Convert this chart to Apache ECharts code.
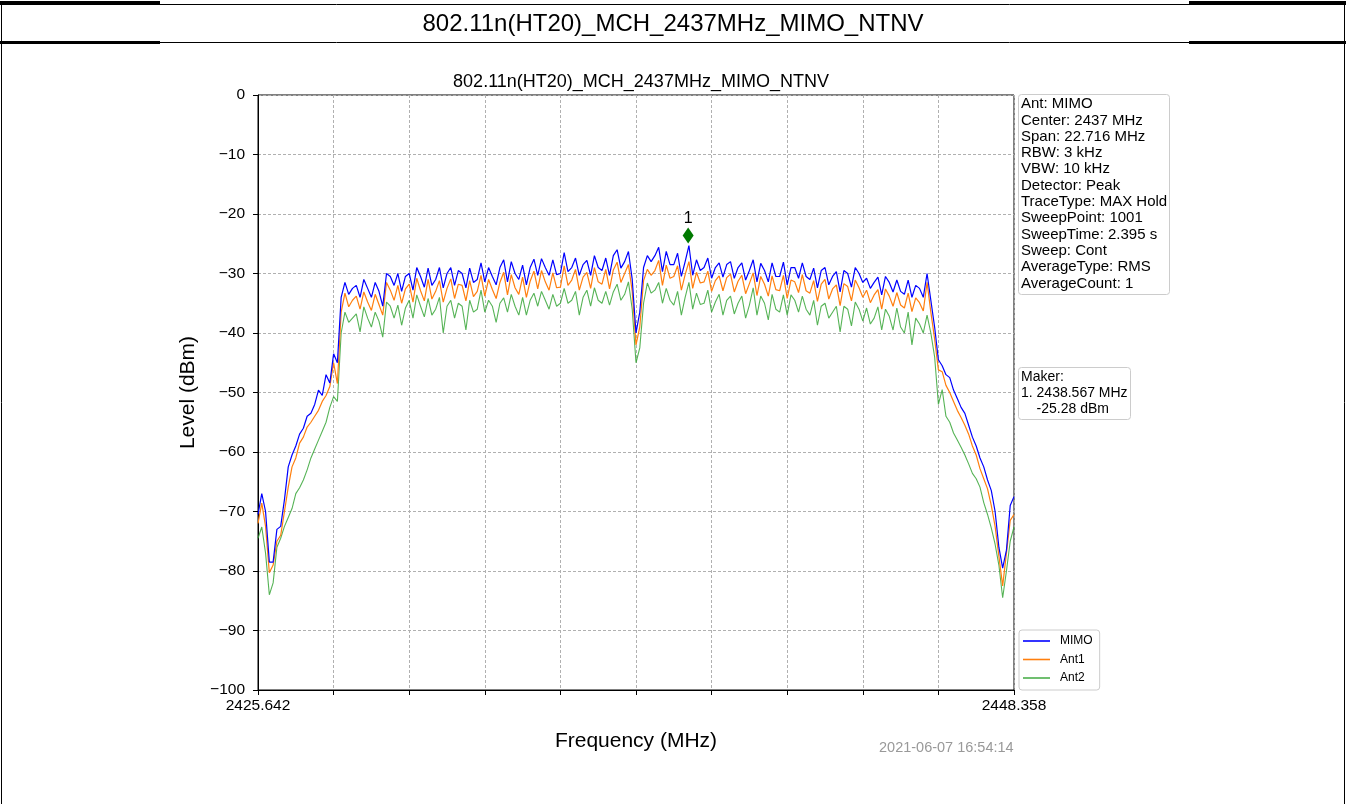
<!DOCTYPE html>
<html>
<head>
<meta charset="utf-8">
<script src="https://cdn.jsdelivr.net/npm/echarts@6/dist/echarts.min.js"></script>
<style>
html,body{margin:0;padding:0;background:#fff;}
#c{width:1346px;height:804px;}
</style>
</head>
<body>
<div id="c"></div>
<script>
// ---------------- data ----------------
const headerTitle = '802.11n(HT20)_MCH_2437MHz_MIMO_NTNV';
const chartTitle = '802.11n(HT20)_MCH_2437MHz_MIMO_NTNV';
const FREQ_START = 2425.642;
const FREQ_STOP = 2448.358;
const xTickLabels = ['2425.642', '2448.358'];
const seriesNames = ['MIMO', 'Ant1', 'Ant2'];
const infoLines = ['Ant: MIMO', 'Center: 2437 MHz', 'Span: 22.716 MHz', 'RBW: 3 kHz', 'VBW: 10 kHz',
  'Detector: Peak', 'TraceType: MAX Hold', 'SweepPoint: 1001', 'SweepTime: 2.395 s', 'Sweep: Cont',
  'AverageType: RMS', 'AverageCount: 1'];
const markerLines = ['Maker:', '1. 2438.567 MHz', '    -25.28 dBm'];
const markerFreq = 2438.567;
const markerLevel = -25.28;
const markerLabel = '1';
const timestamp = '2021-06-07 16:54:14';

// levels, 201 evenly spaced sweep points from FREQ_START to FREQ_STOP
const levelMIMO = [
 -70.5,-67.0,-70.0,-78.5,-78.5,-73.0,-72.5,-68.0,-62.5,-60.5,
 -59.0,-57.0,-56.0,-54.0,-53.5,-52.0,-49.6,-50.5,-47.0,-48.4,
 -43.5,-45.0,-34.0,-31.5,-33.5,-32.5,-32.0,-34.0,-31.0,-32.5,
 -34.0,-31.5,-33.0,-35.5,-30.0,-30.5,-32.0,-30.0,-33.0,-30.5,
 -30.0,-32.8,-29.0,-30.5,-32.3,-29.1,-32.0,-31.0,-29.0,-32.4,
 -30.0,-29.0,-32.0,-29.5,-30.0,-32.4,-29.1,-31.5,-31.0,-28.2,
 -31.4,-29.0,-30.5,-31.9,-29.0,-27.7,-31.4,-28.0,-30.0,-31.0,
 -28.6,-31.9,-29.0,-27.6,-30.3,-27.5,-29.0,-30.3,-27.7,-30.2,
 -30.0,-26.5,-29.7,-29.0,-27.4,-30.3,-28.5,-27.8,-30.3,-27.0,
 -29.0,-29.5,-27.4,-30.3,-27.0,-26.0,-29.1,-28.0,-26.3,-31.0,
 -40.0,-36.5,-29.0,-27.0,-28.0,-27.0,-25.6,-29.7,-26.3,-28.5,
 -28.5,-26.6,-30.5,-28.0,-25.3,-30.3,-27.7,-29.5,-29.0,-27.4,
 -30.8,-29.0,-28.2,-30.6,-28.5,-28.0,-30.8,-29.0,-28.2,-31.1,
 -29.5,-27.7,-31.4,-28.3,-29.5,-31.4,-28.2,-30.5,-30.5,-28.1,
 -31.9,-29.0,-29.0,-30.8,-28.2,-30.5,-31.0,-29.1,-32.4,-29.5,
 -29.0,-31.9,-30.5,-29.7,-33.1,-29.5,-30.0,-32.3,-29.0,-30.0,
 -31.5,-30.8,-32.5,-31.5,-30.6,-33.6,-30.5,-31.5,-33.1,-31.1,
 -33.0,-33.5,-31.1,-34.0,-32.0,-32.5,-34.0,-30.0,-34.5,-39.0,
 -44.5,-45.5,-47.0,-47.5,-49.6,-51.0,-52.5,-53.5,-55.5,-57.5,
 -59.0,-61.0,-62.5,-64.7,-66.5,-70.0,-76.0,-79.5,-76.5,-69.0,
 -67.5
];
const levelAnt1 = [
 -72.0,-68.6,-72.5,-80.3,-79.0,-75.0,-74.0,-70.0,-65.9,-62.5,
 -61.0,-58.5,-57.5,-55.8,-55.0,-54.0,-53.0,-51.5,-50.5,-49.0,
 -45.0,-48.5,-36.5,-33.3,-35.6,-34.5,-33.8,-36.0,-33.1,-34.8,
 -36.2,-33.5,-35.2,-37.0,-31.5,-32.8,-34.5,-32.0,-35.0,-32.6,
 -31.8,-34.8,-30.8,-32.9,-34.6,-31.0,-34.3,-33.0,-31.2,-34.8,
 -32.5,-30.9,-34.2,-31.8,-32.0,-34.6,-31.2,-33.9,-33.0,-30.3,
 -33.8,-31.0,-32.7,-34.2,-31.5,-29.8,-33.6,-30.2,-32.4,-33.5,
 -30.6,-34.0,-31.3,-29.6,-32.6,-29.5,-31.4,-32.8,-29.9,-32.4,
 -32.3,-28.7,-32.0,-31.1,-29.3,-32.8,-30.6,-29.8,-32.5,-29.0,
 -31.4,-31.8,-29.3,-32.6,-29.4,-28.1,-31.5,-30.0,-28.5,-33.0,
 -42.0,-39.0,-31.2,-29.3,-30.3,-29.5,-27.8,-32.0,-28.6,-30.8,
 -30.5,-28.7,-32.8,-30.2,-28.0,-32.5,-29.8,-31.6,-31.4,-29.6,
 -33.0,-31.2,-30.4,-32.9,-30.7,-30.1,-33.1,-31.3,-30.3,-33.4,
 -31.7,-29.9,-33.7,-30.5,-31.8,-33.8,-30.4,-32.7,-32.9,-30.3,
 -34.2,-31.1,-31.4,-33.2,-30.2,-32.9,-33.3,-31.2,-34.7,-31.8,
 -31.0,-34.3,-32.6,-31.9,-35.4,-31.7,-32.2,-34.6,-31.1,-32.4,
 -34.0,-32.8,-34.9,-33.6,-32.7,-36.0,-32.6,-33.8,-35.5,-33.2,
 -35.3,-35.8,-33.3,-36.4,-34.1,-34.9,-36.3,-31.5,-36.5,-41.0,
 -46.2,-46.5,-48.8,-50.0,-51.5,-53.0,-54.2,-55.5,-57.0,-59.0,
 -60.5,-62.8,-64.5,-66.2,-69.0,-72.5,-77.5,-82.5,-77.0,-71.5,
 -70.5
];
const levelAnt2 = [
 -74.5,-72.6,-77.0,-84.0,-82.0,-76.0,-74.5,-72.5,-71.0,-69.5,
 -67.0,-66.0,-64.7,-63.0,-61.0,-59.5,-58.0,-56.5,-55.0,-52.5,
 -50.7,-51.5,-40.0,-36.5,-38.2,-37.5,-36.8,-39.8,-35.6,-37.5,
 -39.0,-36.5,-38.0,-40.7,-34.8,-35.5,-37.5,-35.3,-38.7,-35.8,
 -34.5,-37.5,-33.6,-35.5,-37.3,-34.2,-37.0,-36.0,-34.0,-40.0,
 -35.5,-34.5,-37.5,-35.0,-35.5,-39.5,-34.5,-36.5,-36.0,-32.8,
 -36.5,-34.5,-35.5,-38.2,-35.0,-34.1,-36.5,-33.5,-35.5,-37.0,
 -34.0,-37.0,-34.5,-33.3,-35.5,-33.0,-34.5,-36.0,-33.5,-35.5,
 -35.0,-32.5,-35.0,-34.5,-33.0,-37.0,-34.0,-32.8,-35.5,-32.4,
 -34.5,-35.0,-33.0,-35.3,-33.1,-31.8,-34.5,-33.5,-31.4,-36.0,
 -45.0,-42.5,-35.0,-31.6,-33.3,-32.8,-31.5,-35.0,-32.5,-34.5,
 -35.3,-33.0,-37.0,-34.0,-31.5,-36.0,-33.3,-35.2,-35.0,-32.8,
 -36.5,-34.8,-33.5,-37.0,-34.5,-33.8,-36.8,-35.0,-33.8,-37.5,
 -35.3,-32.4,-37.0,-33.8,-35.0,-37.8,-33.5,-36.0,-36.5,-33.6,
 -37.0,-33.6,-34.5,-36.5,-33.8,-36.0,-37.0,-34.5,-38.7,-35.5,
 -35.0,-37.5,-36.5,-35.5,-39.8,-35.5,-36.0,-38.8,-34.8,-36.0,
 -38.0,-35.8,-38.5,-37.5,-35.6,-39.5,-36.0,-37.2,-39.5,-35.8,
 -39.0,-40.0,-36.5,-42.0,-37.5,-38.5,-40.0,-37.0,-40.0,-44.0,
 -52.0,-49.5,-54.0,-55.0,-56.8,-58.0,-59.2,-60.5,-62.0,-63.6,
 -64.5,-65.9,-68.5,-70.5,-72.8,-75.5,-79.0,-84.5,-80.0,-75.0,
 -72.6
];

// ---------------- build ----------------
const N = levelMIMO.length;
const STEP = (FREQ_STOP - FREQ_START) / (N - 1);
const freqs = levelMIMO.map((_, i) => FREQ_START + i * STEP);
const pairs = arr => arr.map((v, i) => [freqs[i], v]);
const TICK_STEP = (FREQ_STOP - FREQ_START) / 10;

const FONT = '"Liberation Sans", Arial, Helvetica, sans-serif';
const minus = v => (v < 0 ? '\u2212' + Math.abs(v) : String(v));

const chart = echarts.init(document.getElementById('c'), null, {renderer: 'canvas'});

const borderColor = '#000';
const option = {
  animation: false,
  backgroundColor: '#fff',
  textStyle: {fontFamily: FONT},
  title: [
    {text: headerTitle, left: 'center', top: 7,
     textStyle: {fontFamily: FONT, fontSize: 24, fontWeight: 'normal', color: '#000'}},
    {text: chartTitle, left: 636, textAlign: 'center', top: 68,
     textStyle: {fontFamily: FONT, fontSize: 18, fontWeight: 'normal', color: '#000'}},
    {text: infoLines.join('\n'), left: 1018, top: 94, padding: [2, 3, 3, 3],
     borderColor: '#cccccc', borderWidth: 1, borderRadius: 3, backgroundColor: '#fff',
     textStyle: {fontFamily: FONT, fontSize: 15, lineHeight: 16.3, fontWeight: 'normal', color: '#000'}},
    {text: markerLines.join('\n'), left: 1018, top: 367, padding: [2, 3, 3, 3],
     borderColor: '#cccccc', borderWidth: 1, borderRadius: 3, backgroundColor: '#fff',
     textStyle: {fontFamily: FONT, fontSize: 14, lineHeight: 16, fontWeight: 'normal', color: '#000'}},
    {text: timestamp, left: 874, top: 735,
     textStyle: {fontFamily: FONT, fontSize: 14.5, fontWeight: 'normal', color: '#999'}}
  ],
  legend: {
    data: seriesNames, orient: 'vertical', left: 1019, top: 630,
    icon: 'rect', itemWidth: 27, itemHeight: 1.6, itemGap: 4.5,
    padding: [4, 7, 5, 4],
    borderColor: '#cccccc', borderWidth: 1, borderRadius: 3, backgroundColor: '#fff',
    textStyle: {fontFamily: FONT, fontSize: 12, color: '#000', padding: [0, 0, 0, 5], lineHeight: 14},
    selectedMode: false
  },
  grid: {left: 258, top: 95, width: 756, height: 595, show: true,
         borderColor: '#000', borderWidth: 1, backgroundColor: 'transparent',
         containLabel: false, outerBoundsMode: 'none'},
  xAxis: {
    type: 'value', min: FREQ_START, max: FREQ_STOP, interval: TICK_STEP,
    name: 'Frequency (MHz)', nameLocation: 'middle', nameGap: 41,
    nameTextStyle: {fontFamily: FONT, fontSize: 21, color: '#000'},
    axisLine: {show: true, onZero: false, lineStyle: {color: borderColor, width: 1}},
    axisTick: {show: true, length: 5, lineStyle: {color: borderColor, width: 1}},
    axisLabel: {show: true, margin: 8, fontFamily: FONT, fontSize: 15.5, color: '#000',
      showMinLabel: true, showMaxLabel: true,
      formatter: v => Math.abs(v - FREQ_START) < 1e-6 ? xTickLabels[0]
                     : (Math.abs(v - FREQ_STOP) < 1e-6 ? xTickLabels[1] : '')},
    splitLine: {show: true, lineStyle: {color: '#b0b0b0', type: [3, 2], width: 1}}
  },
  yAxis: {
    type: 'value', min: -100, max: 0, interval: 10,
    name: 'Level (dBm)', nameLocation: 'middle', nameGap: 57,
    nameTextStyle: {fontFamily: FONT, fontSize: 21, color: '#000'},
    axisLine: {show: true, onZero: false, lineStyle: {color: borderColor, width: 1}},
    axisTick: {show: true, length: 5, lineStyle: {color: borderColor, width: 1}},
    axisLabel: {show: true, margin: 13, fontFamily: FONT, fontSize: 15.5, color: '#000', formatter: minus},
    splitLine: {show: true, lineStyle: {color: '#b0b0b0', type: [3, 2], width: 1}}
  },
  series: [
    {name: seriesNames[0], type: 'line', data: pairs(levelMIMO), symbol: 'none', silent: true, z: 4,
     lineStyle: {color: '#0000ff', width: 1.2}, itemStyle: {color: '#0000ff'}},
    {name: seriesNames[1], type: 'line', data: pairs(levelAnt1), symbol: 'none', silent: true, z: 3,
     lineStyle: {color: '#ff7f0e', width: 1.2}, itemStyle: {color: '#ff7f0e'}},
    {name: seriesNames[2], type: 'line', data: pairs(levelAnt2), symbol: 'none', silent: true, z: 2,
     lineStyle: {color: '#2ca02c', width: 1.1, opacity: 0.8}, itemStyle: {color: '#4caf4c'}},
    {name: 'marker', type: 'scatter', data: [[markerFreq, markerLevel]], symbol: 'diamond',
     symbolSize: [11, 16], symbolOffset: [0, -10], silent: true, z: 6,
     itemStyle: {color: '#007a00', opacity: 1},
     label: {show: true, formatter: markerLabel, position: 'top', distance: 1,
             fontFamily: FONT, fontSize: 16, color: '#000'}}
  ],
  graphic: [
    {type: 'line', silent: true, shape: {x1: 0, y1: 4.5, x2: 1346, y2: 4.5}, style: {stroke: '#000', lineWidth: 1}},
    {type: 'rect', silent: true, shape: {x: 0, y: 1, width: 160, height: 3}, style: {fill: '#000'}},
    {type: 'rect', silent: true, shape: {x: 1189, y: 1, width: 157, height: 3}, style: {fill: '#000'}},
    {type: 'line', silent: true, shape: {x1: 0, y1: 42.5, x2: 1346, y2: 42.5}, style: {stroke: '#000', lineWidth: 1}},
    {type: 'rect', silent: true, shape: {x: 0, y: 41, width: 160, height: 3}, style: {fill: '#000'}},
    {type: 'rect', silent: true, shape: {x: 1189, y: 41, width: 157, height: 3}, style: {fill: '#000'}},
    {type: 'line', silent: true, shape: {x1: 1.5, y1: 1, x2: 1.5, y2: 804}, style: {stroke: '#000', lineWidth: 1}},
    {type: 'line', silent: true, shape: {x1: 1344.5, y1: 1, x2: 1344.5, y2: 804}, style: {stroke: '#000', lineWidth: 1}}
  ]
};
chart.setOption(option);
</script>
</body>
</html>
